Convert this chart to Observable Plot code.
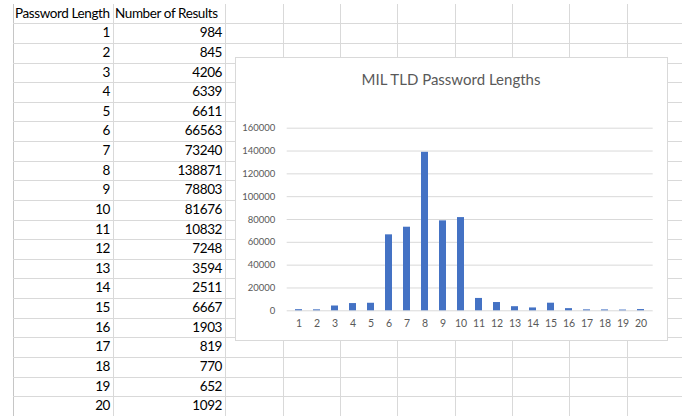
<!DOCTYPE html>
<html><head><meta charset="utf-8">
<script src="https://cdn.jsdelivr.net/npm/d3@7"></script>
<script src="https://cdn.jsdelivr.net/npm/@observablehq/plot@0.6"></script>
<style>
html,body{margin:0;padding:0;background:#fff;}
#page{position:relative;width:682px;height:416px;overflow:hidden;font-family:Lato,"Open Sans",sans-serif;}
.vl{position:absolute;width:1px;background:#d9d9d9;}
.hl{position:absolute;height:1px;background:#d9d9d9;}
.cell{position:absolute;font-size:13.5px;letter-spacing:-0.4px;color:#000;white-space:nowrap;box-sizing:border-box;}
#chartbox{position:absolute;left:235px;top:57px;width:433px;height:284px;box-sizing:border-box;border:1px solid #d9d9d9;background:#fff;}
#title{position:absolute;left:235px;top:68px;width:432px;text-align:center;font-size:15px;color:#595959;line-height:22px;}
#plot{position:absolute;left:235px;top:107px;}
</style></head><body><div id="page"></div>
<script>
const lengths = [1,2,3,4,5,6,7,8,9,10,11,12,13,14,15,16,17,18,19,20];
const counts = [984,845,4206,6339,6611,66563,73240,138871,78803,81676,10832,7248,3594,2511,6667,1903,819,770,652,1092];
const headers = ["Password Length","Number of Results"];
const yTicks = [0,20000,40000,60000,80000,100000,120000,140000,160000];
const title = "MIL TLD Password Lengths";

const page = document.getElementById("page");
// spreadsheet grid
const colX = [13,113,225,283,340,397,455,512,569,627];
const rowTop = 4, headBottom = 23.3, rowH = 19.63, nRows = 20;
colX.forEach(x => {
  const d = document.createElement("div");
  d.className = "vl";
  d.style.left = x + "px"; d.style.top = rowTop + "px"; d.style.height = (416 - rowTop) + "px";
  if (x === 13) d.style.background = "#c6c6c6";
  page.appendChild(d);
});
for (let k = 0; k <= nRows; k++) {
  const y = Math.round(headBottom + k * rowH);
  const d = document.createElement("div");
  d.className = "hl";
  d.style.left = "13px"; d.style.width = "669px"; d.style.top = y + "px";
  page.appendChild(d);
}
function cell(text, left, width, top, height, align) {
  const c = document.createElement("div");
  c.className = "cell";
  c.textContent = text;
  c.style.left = left + "px"; c.style.width = width + "px";
  c.style.top = top + "px"; c.style.height = height + "px";
  c.style.lineHeight = height + "px";
  c.style.textAlign = align;
  c.style.padding = align === "left" ? "0 0 0 2px" : "0 3px 0 0";
  page.appendChild(c);
}
cell(headers[0], colX[0], colX[1] - colX[0], rowTop, headBottom - rowTop, "left");
cell(headers[1], colX[1], colX[2] - colX[1], rowTop, headBottom - rowTop, "left");
lengths.forEach((l, i) => {
  const top = headBottom + i * rowH;
  cell(String(l), colX[0], colX[1] - colX[0], top, rowH, "right");
  cell(String(counts[i]), colX[1], colX[2] - colX[1], top, rowH, "right");
});

// chart
const box = document.createElement("div"); box.id = "chartbox"; page.appendChild(box);
const t = document.createElement("div"); t.id = "title"; t.textContent = title; page.appendChild(t);

const data = lengths.map((l, i) => ({length: l, count: counts[i]}));
const chart = Plot.plot({
  width: 432, height: 233,
  marginLeft: 51.7, marginRight: 14.3, marginTop: 20.7, marginBottom: 29.7,
  style: {fontFamily: "Lato, 'Open Sans', sans-serif", fontSize: "10px", color: "#595959", background: "transparent"},
  x: {type: "band", domain: lengths, paddingInner: 0.63, paddingOuter: 0.315, label: null},
  y: {domain: [0, 160000], label: null},
  marks: [
    Plot.gridY(yTicks, {stroke: "#d9d9d9", strokeOpacity: 1}),
    Plot.barY(data, {x: "length", y: "count", fill: "#4472C4"}),
    Plot.axisY(yTicks, {tickSize: 0, tickPadding: 12, tickFormat: d => String(d), label: null, fontSize: 9.5, fill: "#595959"}),
    Plot.axisX({tickSize: 0, tickPadding: 9, label: null, fontSize: 10.5, fill: "#595959"})
  ]
});
const wrap = document.createElement("div"); wrap.id = "plot"; wrap.appendChild(chart); page.appendChild(wrap);
</script></body></html>
